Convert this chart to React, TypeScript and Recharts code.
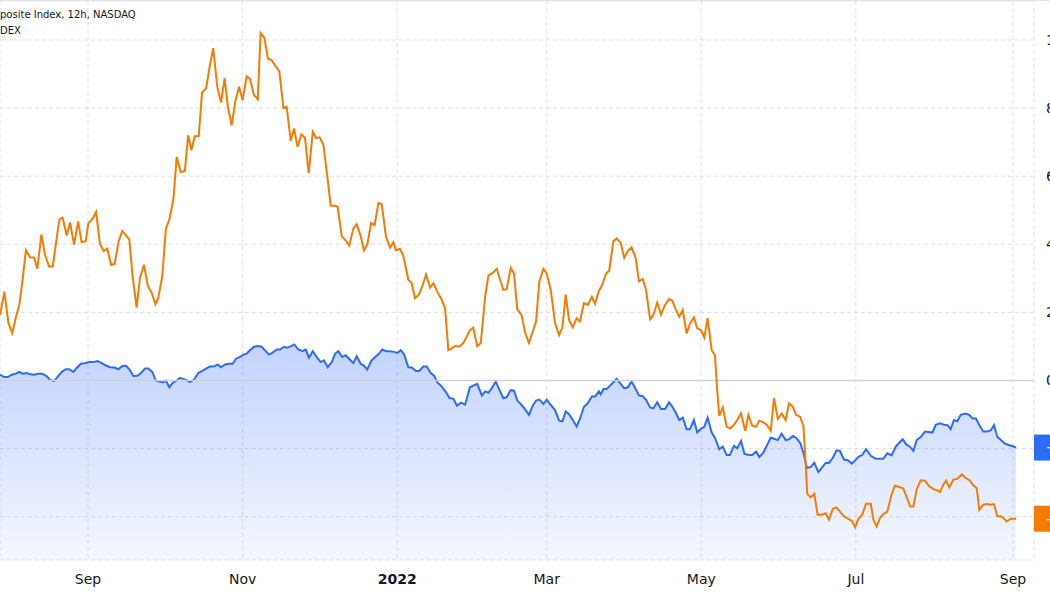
import React from 'react';
import { ComposedChart, Area, Line, XAxis, YAxis, CartesianGrid, ReferenceLine } from 'recharts';

// x values are days since 2021-09-01
const X_TICKS = [0, 61, 122, 181, 242, 303, 365];
const X_LABELS = ['Sep', 'Nov', '2022', 'Mar', 'May', 'Jul', 'Sep'];
const Y_TICKS = [-40, -20, 0, 20, 40, 60, 80, 100];
const TITLE_LINE_1 = 'posite Index, 12h, NASDAQ';
const TITLE_LINE_2 = 'DEX';

// NASDAQ Composite, % change (blue area)
const BLUE_DAYS = [
  -34.7, -33.1, -31.6, -30.1, -28.5, -27.1, -25.8, -24.2, -22.6, -21.2,
  -19.6, -18.0, -16.3, -15.0, -13.4, -12.1, -10.4, -8.8, -7.4, -5.8,
  -4.2, -2.8, -1.2, 0.5, 2.1, 3.7, 5.4, 7.1, 8.7, 10.4,
  12.0, 13.4, 15.0, 16.3, 17.9, 19.5, 20.9, 22.5, 23.8, 25.4,
  26.7, 28.1, 29.7, 30.7, 32.1, 33.4, 35.0, 36.3, 38.6, 40.2,
  41.8, 43.5, 45.1, 46.6, 48.1, 49.7, 51.2, 52.5, 54.1, 55.6,
  57.1, 58.4, 60.0, 61.3, 62.6, 63.9, 65.5, 67.0, 68.5, 69.8,
  71.4, 72.7, 74.5, 75.8, 77.3, 78.6, 80.1, 81.4, 83.0, 84.6,
  85.9, 87.2, 88.7, 90.2, 91.8, 93.1, 94.6, 96.2, 97.5, 98.8,
  100.3, 101.7, 103.4, 104.7, 106.0, 107.6, 108.9, 110.2, 111.7, 113.3,
  114.6, 116.1, 117.6, 119.2, 120.7, 122.1, 123.4, 124.7, 126.4, 127.7,
  129.4, 130.7, 132.3, 133.7, 135.2, 136.5, 137.8, 139.6, 141.3, 142.6,
  144.2, 145.6, 147.2, 148.8, 150.7, 152.0, 153.6, 155.4, 156.7, 158.0,
  159.3, 160.9, 162.3, 163.9, 165.2, 166.8, 168.1, 169.4, 171.1, 172.4,
  174.0, 175.5, 176.8, 178.1, 179.7, 181.0, 182.6, 184.3, 185.9, 187.2,
  188.5, 189.8, 191.3, 192.8, 194.1, 195.7, 197.2, 198.8, 200.1, 201.6,
  202.3, 203.4, 204.7, 206.0, 207.3, 208.6, 210.2, 211.6, 213.0, 214.5,
  216.1, 217.4, 218.9, 220.2, 221.8, 223.1, 224.6, 226.1, 227.7, 229.3,
  230.6, 231.9, 233.3, 234.7, 236.2, 237.5, 239.1, 240.4, 241.9, 243.2,
  244.5, 246.1, 247.4, 249.1, 250.5, 252.0, 253.3, 254.9, 256.2, 257.7,
  259.0, 260.6, 262.1, 263.6, 264.9, 266.5, 267.8, 269.4, 270.7, 272.2,
  273.7, 275.3, 276.6, 278.1, 279.4, 281.0, 282.3, 283.7, 285.2, 286.6,
  288.2, 289.5, 291.1, 292.4, 293.9, 295.4, 296.7, 298.3, 299.8, 301.4,
  302.7, 304.0, 305.5, 307.0, 309.0, 310.6, 312.1, 313.8, 315.4, 317.1,
  318.7, 320.1, 321.5, 322.8, 324.4, 325.7, 327.0, 328.6, 330.3, 331.6,
  333.2, 334.5, 336.2, 337.8, 339.2, 340.4, 341.7, 343.0, 344.4, 346.1,
  347.7, 349.1, 350.4, 351.7, 353.3, 354.9, 356.3, 357.5, 358.8, 360.2,
  361.9, 363.6, 365.2, 366.2,
];
const BLUE_PCT = [
  1.7, 1.0, 1.0, 1.7, 2.0, 2.5, 2.0, 2.2, 1.8, 1.7,
  2.0, 2.0, 1.2, 0.2, -0.2, 1.0, 2.5, 3.3, 3.3, 2.5,
  3.9, 4.9, 5.1, 5.4, 5.4, 5.7, 5.1, 4.4, 3.9, 3.8,
  3.3, 4.2, 4.3, 3.3, 1.3, 1.4, 2.2, 3.5, 3.5, 2.5,
  0.0, -0.3, -0.6, 0.0, -2.0, -0.7, 0.0, 0.8, 0.2, -0.5,
  0.2, 2.2, 2.8, 3.5, 4.1, 4.1, 4.7, 3.9, 4.7, 4.9,
  4.9, 6.4, 6.9, 7.6, 7.9, 8.9, 9.9, 10.1, 9.9, 8.9,
  7.6, 8.1, 9.1, 9.1, 9.9, 9.6, 10.1, 10.6, 9.1, 8.6,
  9.1, 6.7, 8.6, 6.9, 5.4, 5.9, 3.9, 5.4, 7.9, 8.6,
  6.9, 7.4, 6.1, 5.1, 7.1, 4.9, 4.4, 3.2, 5.7, 6.9,
  7.7, 9.1, 8.6, 8.6, 8.4, 8.1, 8.9, 7.7, 3.9, 3.8,
  2.8, 2.8, 4.1, 4.1, 2.2, 1.5, -0.5, -1.8, -3.5, -5.1,
  -5.4, -7.4, -6.5, -7.1, -2.0, -1.5, -1.0, -4.4, -3.2, -3.6,
  -2.3, -0.3, -2.7, -5.2, -4.9, -2.8, -3.0, -5.9, -7.2, -8.4,
  -10.1, -7.4, -5.9, -5.6, -6.9, -5.6, -7.2, -8.7, -11.8, -12.0,
  -9.1, -9.9, -11.6, -13.5, -11.3, -7.7, -6.7, -4.7, -4.7, -3.2,
  -4.1, -2.5, -2.5, -1.5, -0.5, 0.5, -1.0, -2.3, -2.0, -0.3,
  -2.5, -4.4, -4.6, -5.7, -7.9, -8.2, -6.4, -8.4, -8.4, -6.4,
  -7.7, -9.4, -11.6, -10.9, -14.3, -14.3, -11.6, -15.3, -14.1, -13.6,
  -10.9, -15.3, -16.8, -20.2, -19.4, -21.9, -21.9, -19.2, -19.9, -17.8,
  -21.5, -21.9, -21.9, -20.9, -22.5, -21.2, -19.2, -16.8, -17.1, -17.5,
  -15.6, -17.5, -17.3, -16.3, -16.8, -18.3, -21.2, -25.7, -25.4, -24.2,
  -26.9, -25.7, -24.2, -24.2, -22.7, -20.5, -20.7, -23.2, -23.4, -24.4,
  -23.5, -22.4, -21.9, -20.2, -22.2, -22.9, -23.0, -23.0, -21.4, -22.0,
  -19.5, -18.3, -17.3, -18.7, -19.5, -20.7, -17.5, -16.6, -15.0, -15.1,
  -15.3, -13.0, -12.6, -13.0, -13.1, -14.3, -11.6, -12.0, -10.1, -9.7,
  -10.1, -11.2, -11.2, -13.1, -15.0, -15.0, -14.6, -13.1, -16.5, -17.5,
  -18.6, -19.0, -19.4, -19.7,
];

// Compared index, % change (orange line)
const ORANGE_DAYS = [
  -34.7, -33.0, -31.4, -29.9, -28.4, -27.1, -25.8, -24.5, -22.9, -21.3,
  -20.0, -18.4, -17.0, -15.4, -13.9, -12.6, -11.3, -10.0, -8.4, -7.1,
  -5.5, -3.9, -2.5, -0.9, 0.1, 1.9, 3.2, 4.7, 6.2, 7.6,
  9.1, 10.5, 12.1, 13.5, 15.0, 16.3, 17.6, 19.2, 20.5, 22.1,
  23.6, 25.1, 26.6, 27.7, 29.3, 30.7, 32.1, 33.7, 35.0, 36.6,
  38.2, 39.5, 40.8, 42.1, 43.7, 45.0, 46.6, 47.9, 49.4, 51.0,
  52.5, 53.9, 55.2, 56.7, 58.1, 59.6, 61.0, 62.6, 64.0, 65.5,
  67.0, 68.1, 69.6, 71.0, 72.5, 74.1, 75.5, 77.1, 78.4, 80.0,
  81.3, 82.7, 84.2, 85.6, 87.1, 88.7, 90.0, 91.4, 92.9, 94.4,
  95.8, 97.3, 98.5, 100.1, 101.7, 103.1, 104.7, 106.0, 107.6, 108.9,
  110.2, 111.7, 113.1, 114.6, 115.9, 117.6, 119.2, 120.5, 121.5, 123.1,
  124.4, 126.4, 127.7, 129.0, 130.6, 132.1, 133.4, 135.0, 136.3, 137.8,
  139.6, 140.9, 142.2, 143.5, 144.8, 146.5, 148.1, 149.4, 150.7, 152.0,
  153.6, 155.0, 156.7, 158.0, 159.7, 161.3, 162.6, 163.9, 165.2, 166.8,
  168.1, 169.4, 171.1, 172.4, 174.0, 175.5, 176.8, 178.1, 179.7, 181.0,
  182.6, 184.3, 185.9, 187.2, 188.5, 189.8, 191.3, 192.8, 194.1, 195.7,
  197.2, 198.8, 200.1, 201.6, 202.9, 204.4, 205.7, 207.3, 208.6, 210.2,
  211.6, 213.0, 214.5, 216.1, 217.4, 218.9, 220.2, 221.8, 223.1, 224.6,
  226.1, 227.7, 229.3, 230.6, 231.9, 233.3, 234.7, 236.2, 237.5, 239.1,
  240.4, 241.9, 243.2, 244.5, 246.1, 247.4, 248.1, 249.1, 250.5, 252.0,
  253.3, 254.9, 256.2, 257.7, 259.3, 260.6, 262.1, 263.6, 264.9, 266.5,
  267.8, 269.4, 270.7, 272.2, 273.7, 275.3, 276.6, 278.1, 279.4, 281.0,
  282.3, 283.3, 283.8, 285.2, 286.6, 287.9, 289.5, 291.1, 292.4, 293.9,
  295.4, 296.7, 298.3, 299.8, 301.4, 302.7, 304.0, 305.5, 307.0, 308.9,
  309.9, 311.2, 312.5, 313.8, 315.4, 317.1, 318.4, 320.1, 321.7, 323.1,
  324.4, 325.7, 327.0, 328.6, 330.3, 331.9, 333.6, 335.1, 336.2, 337.5,
  338.6, 339.9, 341.5, 343.0, 344.8, 346.3, 347.8, 349.3, 350.7, 351.7,
  353.3, 354.6, 356.2, 357.5, 358.8, 360.2, 361.2, 362.5, 364.1, 366.2,
];
const ORANGE_PCT = [
  19.2, 26.1, 16.9, 13.9, 18.7, 22.2, 29.6, 38.3, 36.2, 36.1,
  32.8, 42.9, 37.0, 33.5, 33.5, 40.5, 47.3, 47.8, 42.6, 46.4,
  39.9, 46.7, 40.6, 40.9, 46.1, 47.6, 49.5, 40.2, 38.0, 38.7,
  34.0, 34.2, 40.9, 43.9, 42.6, 41.4, 30.6, 21.4, 30.1, 34.0,
  27.8, 25.8, 22.4, 24.2, 30.6, 44.4, 47.3, 53.3, 65.6, 61.2,
  61.5, 72.0, 67.6, 71.7, 71.7, 84.6, 85.8, 91.7, 97.6, 86.3,
  81.6, 88.8, 80.4, 74.9, 81.9, 86.3, 82.3, 89.3, 88.5, 83.8,
  82.6, 102.1, 100.6, 94.5, 94.0, 92.2, 90.8, 80.1, 80.4, 70.3,
  74.0, 68.6, 72.3, 71.3, 61.0, 73.0, 71.2, 71.4, 69.2, 60.2,
  51.3, 51.3, 51.0, 42.4, 41.1, 39.6, 44.6, 45.9, 42.4, 38.2,
  39.9, 46.2, 45.6, 52.1, 51.8, 42.2, 39.0, 40.6, 38.2, 38.7,
  36.7, 29.6, 28.6, 24.2, 25.2, 28.1, 31.1, 27.3, 28.6, 26.1,
  23.7, 21.2, 8.9, 9.4, 10.1, 9.9, 11.0, 12.8, 14.8, 15.5,
  10.1, 11.0, 24.6, 30.8, 31.6, 32.8, 29.6, 26.6, 26.8, 33.1,
  31.4, 20.9, 19.2, 14.3, 11.0, 14.3, 17.3, 29.1, 32.8, 31.4,
  26.6, 16.8, 13.3, 15.6, 25.2, 17.8, 15.6, 18.3, 17.3, 22.7,
  22.2, 24.6, 22.5, 26.3, 28.1, 31.3, 32.3, 40.9, 41.7, 40.4,
  36.0, 38.0, 39.1, 36.0, 29.1, 29.8, 26.6, 18.0, 19.2, 22.9,
  19.4, 22.2, 23.9, 23.4, 20.9, 18.7, 20.7, 13.8, 16.6, 18.5,
  15.3, 14.8, 12.6, 18.3, 8.9, 7.4, -1.0, -10.4, -7.9, -13.6,
  -14.1, -13.0, -11.6, -9.6, -14.8, -10.1, -13.3, -13.6, -11.8, -12.3,
  -13.0, -14.8, -5.2, -11.3, -9.7, -11.6, -6.7, -7.7, -10.1, -10.7,
  -13.3, -25.7, -33.3, -34.3, -33.3, -39.4, -39.4, -39.0, -40.9, -37.7,
  -37.3, -38.5, -39.9, -40.6, -41.2, -43.1, -40.6, -39.4, -36.2, -36.2,
  -40.9, -42.9, -40.4, -39.3, -38.5, -33.5, -30.9, -31.3, -31.7, -34.3,
  -37.0, -37.0, -32.0, -29.3, -29.4, -31.1, -31.9, -32.3, -32.8, -30.6,
  -29.4, -31.4, -29.1, -28.9, -27.6, -28.6, -29.3, -30.8, -31.6, -38.0,
  -36.5, -36.3, -36.5, -36.3, -39.9, -39.9, -40.4, -41.4, -40.6, -40.6,
];

const X_DOMAIN: [number, number] = [-34.73, 373.29];
const Y_DOMAIN: [number, number] = [-52.72, 111.45];

const BLUE = '#2d6cf6';
const ORANGE = '#f57c00';
const FONT = '"DejaVu Sans", sans-serif';

const blueData = BLUE_DAYS.map((t, i) => ({ t, v: BLUE_PCT[i] }));
const orangeData = ORANGE_DAYS.map((t, i) => ({ t, v: ORANGE_PCT[i] }));
const blueLast = BLUE_PCT[BLUE_PCT.length - 1];
const orangeLast = ORANGE_PCT[ORANGE_PCT.length - 1];

const fmtPct = (v: number) => `${v < 0 ? '\u2212' : ''}${Math.abs(v).toFixed(2)}%`;

const XTick = (props: any) => {
  const { x, y, payload } = props;
  const idx = X_TICKS.indexOf(payload.value);
  const label = X_LABELS[idx] ?? '';
  const bold = /^\d{4}$/.test(label);
  return (
    <text x={x} y={y + 24} textAnchor="middle" fontFamily={FONT} fontSize={14}
      fontWeight={bold ? 700 : 400} fill="#131722">
      {label}
    </text>
  );
};

const YTick = (props: any) => {
  const { x, y, payload } = props;
  if (payload.value < 0) return <g />;
  return (
    <text x={x} y={y} dy="0.35em" textAnchor="start" fontFamily={FONT} fontSize={14} fill="#131722">
      {fmtPct(payload.value)}
    </text>
  );
};

const makeBadge = (color: string, value: number) => (props: any) => {
  const vb = props.viewBox || {};
  const left = vb.x + vb.width;
  return (
    <g>
      <rect x={left} y={vb.y - 13} width={70} height={26} fill={color} />
      <text x={left + 12} y={vb.y} dy="0.35em" fontFamily={FONT} fontSize={14} fill="#ffffff">
        {fmtPct(value)}
      </text>
    </g>
  );
};

export default function App() {
  return (
    <div style={{ position: 'absolute', left: 0, top: 0, width: 1050, height: 600, overflow: 'hidden', background: '#ffffff' }}>
      <ComposedChart width={1100} height={600} margin={{ top: 1, right: 0, bottom: 0, left: 0 }}>
        <defs>
          <linearGradient id="blueFill" x1="0" y1="0" x2="0" y2="1">
            <stop offset="0%" stopColor="#2962ff" stopOpacity={0.28} />
            <stop offset="100%" stopColor="#2962ff" stopOpacity={0.05} />
          </linearGradient>
        </defs>
        <CartesianGrid stroke="#dcdfe6" strokeDasharray="4 3" />
        <XAxis dataKey="t" type="number" domain={X_DOMAIN} allowDataOverflow ticks={X_TICKS}
          axisLine={false} tickLine={false} tickSize={0} tickMargin={0} height={40} tick={<XTick />}
          interval={0} />
        <YAxis orientation="right" type="number" domain={Y_DOMAIN} allowDataOverflow ticks={Y_TICKS}
          axisLine={false} tickLine={false} tickSize={0} tickMargin={12} width={66} tick={<YTick />}
          interval={0} />
        <ReferenceLine y={0} stroke="#cfd2d9" strokeWidth={1.5} />
        <Area data={blueData} dataKey="v" type="linear" stroke={BLUE} strokeWidth={2}
          fill="url(#blueFill)" fillOpacity={1} baseValue="dataMin" dot={false} activeDot={false}
          isAnimationActive={false} />
        <Line data={orangeData} dataKey="v" type="linear" stroke={ORANGE} strokeWidth={2}
          dot={false} activeDot={false} isAnimationActive={false} />
        <ReferenceLine y={blueLast} stroke="none" label={makeBadge(BLUE, blueLast)} />
        <ReferenceLine y={orangeLast} stroke="none" label={makeBadge(ORANGE, orangeLast)} />
      </ComposedChart>
      <div style={{ position: 'absolute', left: 0, top: 0, width: 1050, height: 1, background: '#e0e3eb' }} />
      <div style={{ position: 'absolute', left: 0, top: 7, fontFamily: FONT, fontSize: 10, lineHeight: '16px', color: '#131722', whiteSpace: 'nowrap' }}>
        <div>{TITLE_LINE_1}</div>
        <div>{TITLE_LINE_2}</div>
      </div>
    </div>
  );
}
